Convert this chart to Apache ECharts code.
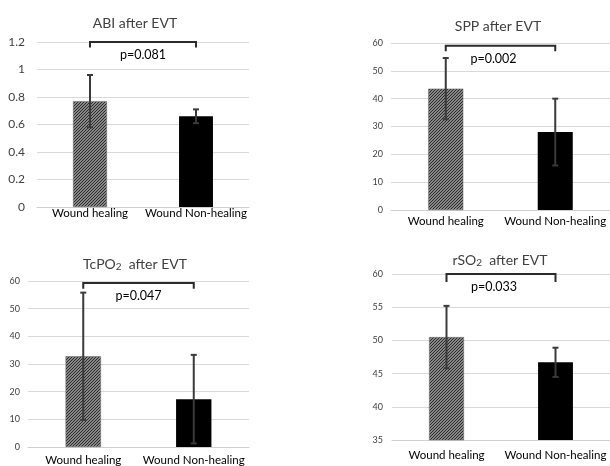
<!DOCTYPE html>
<html>
<head>
<meta charset="utf-8">
<script src="https://cdn.jsdelivr.net/npm/echarts@6/dist/echarts.min.js"></script>
<style>html,body{margin:0;padding:0;background:#fff}#c{width:610px;height:466px}</style>
</head>
<body>
<div id="c"></div>
<script>
// ---- data ----
const categories = ['Wound healing', 'Wound Non-healing'];
const titles = ['ABI after EVT', 'SPP after EVT', 'TcPO{sub|2}  after EVT', 'rSO{sub|2}  after EVT'];
const pValues = ['p=0.081', 'p=0.002', 'p=0.047', 'p=0.033'];

const abiMean = [0.77, 0.66];
const abiSD = [0.19, 0.05];
const sppMean = [43.6, 28];
const sppSD = [11, 12];
const tcpo2Mean = [32.8, 17.3];
const tcpo2SD = [23, 16];
const rso2Mean = [50.5, 46.7];
const rso2SD = [4.7, 2.2];

const axisMin = [0, 0, 0, 35];
const axisMax = [1.2, 60, 60, 60];
const axisInterval = [0.2, 10, 10, 5];
const bracketTop = [1.2, 59, 59.3, 60];
const bracketTick = [1.16, 57, 57.2, 58.8];

const means = [abiMean, sppMean, tcpo2Mean, rso2Mean];
const sds = [abiSD, sppSD, tcpo2SD, rso2SD];

// ---- layout ----
const grids = [
  {left: 37, top: 42, width: 212, height: 165},
  {left: 391, top: 43, width: 219, height: 167},
  {left: 28, top: 281, width: 221, height: 166},
  {left: 392, top: 274, width: 218, height: 166}
];
const titlePos = [[130, 11], [493, 14], [130, 251], [495, 247]];
const yLabelSize = [12, 9, 9, 9];
const yLabelMargin = [12, 8, 8, 9];
const xLabelMargin = [0, 5, 7, 9];
const pTextShift = [0, -7, 0, -7];
const FONT = 'Lato';

// hatch pattern
function makeHatch() {
  const c = document.createElement('canvas');
  c.width = 3; c.height = 3;
  const g = c.getContext('2d');
  g.fillStyle = '#b4b4b4';
  g.fillRect(0, 0, 3, 3);
  g.strokeStyle = '#262626';
  g.lineWidth = 1.2;
  g.beginPath();
  g.moveTo(-1, 4); g.lineTo(4, -1);
  g.moveTo(-1, 1); g.lineTo(1, -1);
  g.moveTo(2, 4); g.lineTo(4, 2);
  g.stroke();
  return c;
}
const hatch = {image: makeHatch(), repeat: 'repeat'};

const chart = echarts.init(document.getElementById('c'), null, {renderer: 'canvas'});

const option = {
  animation: false,
  backgroundColor: '#fff',
  title: titles.map((t, i) => ({
    text: t,
    left: titlePos[i][0], top: titlePos[i][1],
    textAlign: 'center',
    textStyle: {
      fontFamily: FONT, fontSize: 14, fontWeight: 'normal', color: '#404040',
      rich: {sub: {fontFamily: FONT, fontSize: 10, color: '#404040', verticalAlign: 'bottom', padding: [6, 0, 0, 0]}}
    }
  })),
  grid: grids.map(g => Object.assign({containLabel: false}, g)),
  xAxis: grids.map((g, i) => ({
    type: 'category', gridIndex: i, data: categories,
    axisLine: {lineStyle: {color: '#d0d0d0', width: 1}},
    axisTick: {show: false},
    axisLabel: {fontFamily: FONT, fontSize: 11.5, color: '#000', margin: xLabelMargin[i], interval: 0}
  })),
  yAxis: grids.map((g, i) => ({
    type: 'value', gridIndex: i,
    min: axisMin[i], max: axisMax[i], interval: axisInterval[i],
    axisLine: {show: false}, axisTick: {show: false},
    splitLine: {lineStyle: {color: '#d9d9d9', width: 1}},
    axisLabel: {fontFamily: FONT, fontSize: yLabelSize[i], color: '#404040', margin: yLabelMargin[i]}
  })),
  series: []
};

for (let i = 0; i < 4; i++) {
  option.series.push({
    type: 'bar', xAxisIndex: i, yAxisIndex: i,
    barWidth: '32%',
    data: means[i].map((v, k) => ({
      value: v,
      itemStyle: k === 0 ? {color: hatch, borderColor: '#666', borderWidth: 0.5} : {color: '#000'}
    })),
    silent: true
  });
  // error bars
  option.series.push({
    type: 'custom', xAxisIndex: i, yAxisIndex: i, silent: true, z: 5,
    data: means[i].map((m, k) => [k, m - sds[i][k], m + sds[i][k]]),
    renderItem: function (params, api) {
      const x = api.value(0);
      const lo = api.coord([x, api.value(1)]);
      const hi = api.coord([x, api.value(2)]);
      const cap = 3;
      const st = {stroke: '#3a3a3a', lineWidth: 2};
      return {type: 'group', children: [
        {type: 'line', shape: {x1: lo[0], y1: lo[1], x2: hi[0], y2: hi[1]}, style: st},
        {type: 'line', shape: {x1: hi[0] - cap, y1: hi[1], x2: hi[0] + cap, y2: hi[1]}, style: st},
        {type: 'line', shape: {x1: lo[0] - cap, y1: lo[1], x2: lo[0] + cap, y2: lo[1]}, style: st}
      ]};
    }
  });
  // significance bracket
  option.series.push({
    type: 'custom', xAxisIndex: i, yAxisIndex: i, silent: true, z: 6,
    data: [[0, 1, bracketTop[i], bracketTick[i]]],
    renderItem: (function (idx) {
      return function (params, api) {
        const a = api.coord([api.value(0), api.value(2)]);
        const b = api.coord([api.value(1), api.value(2)]);
        const at = api.coord([api.value(0), api.value(3)]);
        const st = {stroke: '#2b2b2b', lineWidth: 2, fill: null};
        return {type: 'group', children: [
          {type: 'polyline', shape: {points: [[a[0], at[1]], [a[0], a[1]], [b[0], b[1]], [b[0], at[1]]]}, style: st},
          {type: 'text', x: (a[0] + b[0]) / 2 + pTextShift[idx], y: a[1] + 13,
           style: {text: pValues[idx], fontFamily: FONT, fontSize: 12.5, fill: '#000', align: 'center', verticalAlign: 'middle'}}
        ]};
      };
    })(i)
  });
}

chart.setOption(option);
</script>
</body>
</html>
